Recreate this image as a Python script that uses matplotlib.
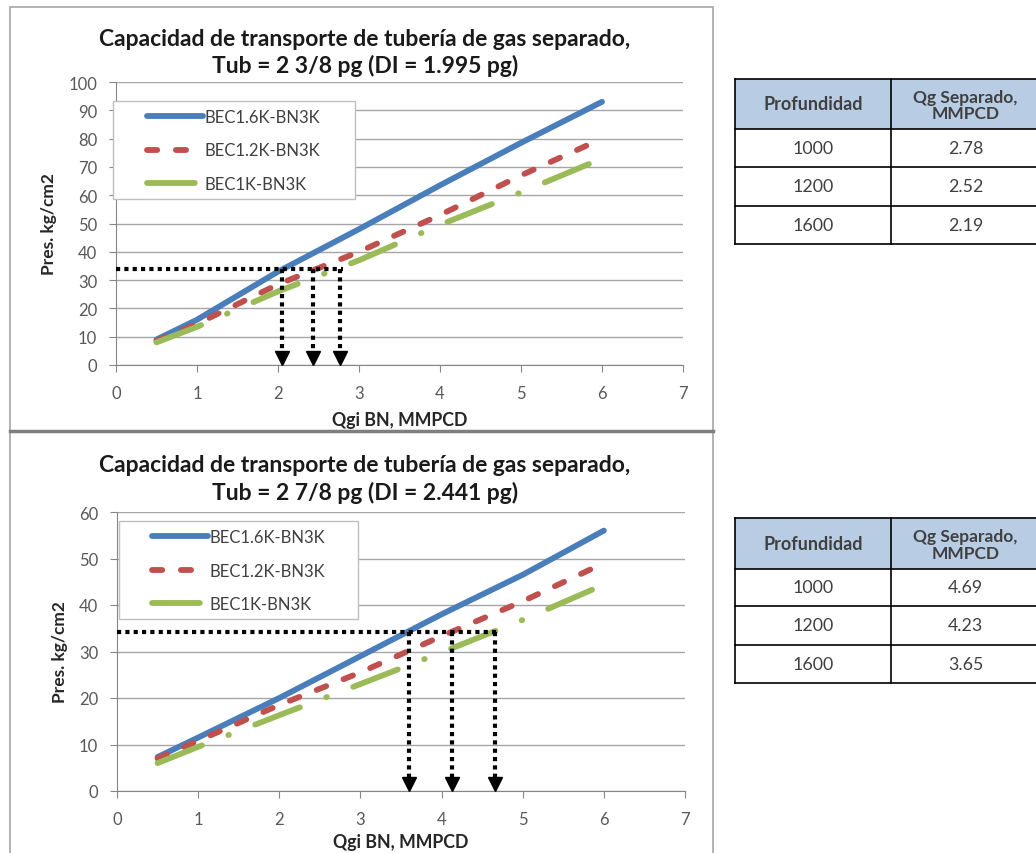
import matplotlib

matplotlib.use("Agg")

import matplotlib.pyplot as plt
from matplotlib.patches import Rectangle

plt.rcParams["font.family"] = ["Lato", "DejaVu Sans"]

# --- data ---
qgi = [0.5, 1, 2, 3, 4, 5, 6]
qgi_green_top = [0.5, 1, 2, 3, 4, 5, 5.92]
qgi_green_bot = [0.5, 1, 2, 3, 4, 5, 5.95]

top_bec16 = [9, 16, 33, 48, 63.5, 78.5, 93]
top_bec12 = [8.5, 14.5, 28.5, 40, 53, 67, 80]
top_bec10 = [8, 13.5, 26, 37, 49.5, 61, 72]

bot_bec16 = [7.3, 11.5, 20, 29, 38, 46.5, 56]
bot_bec12 = [7, 10.8, 18.5, 25.5, 33.3, 40.8, 49]
bot_bec10 = [6, 9.5, 16.3, 23, 29.8, 36.8, 44]

series_labels = ["BEC1.6K-BN3K", "BEC1.2K-BN3K", "BEC1K-BN3K"]

top_p_level = 34.0
top_arrows = [2.05, 2.43, 2.77]
bot_p_level = 34.3
bot_arrows = [3.6, 4.13, 4.66]

table_header = ["Profundidad", "Qg Separado,\nMMPCD"]
depths = ["1000", "1200", "1600"]
top_qg = ["2.78", "2.52", "2.19"]
bot_qg = ["4.69", "4.23", "3.65"]

top_title = ["Capacidad de transporte de tubería de gas separado,",
             "Tub = 2 3/8 pg (DI = 1.995 pg)"]
bot_title = ["Capacidad de transporte de tubería de gas separado,",
             "Tub = 2 7/8 pg (DI = 2.441 pg)"]

BLUE = "#4a7ebb"
RED = "#c0504d"
GREEN = "#9bbb59"
GRID = "#a6a6a6"
TXT = "#404040"

W, H = 1036, 854
fig = plt.figure(figsize=(W / 100, H / 100), dpi=100)


def fx(px):
    return px / W


def fy(py):
    return 1 - py / H


def draw_chart(ax, x16, y16, x12, y12, x10, y10, ymax, level, arrows, box, leg_anchor,
               xlabelpad=7):
    lw = 4.2
    ax.plot(x16, y16, color=BLUE, lw=lw, solid_capstyle="round", label=series_labels[0])
    ax.plot(x12, y12, color=RED, lw=lw, dashes=(1.75, 3.2), dash_capstyle="round",
            label=series_labels[1])
    ax.plot(x10, y10, color=GREEN, lw=lw, dashes=(8.2, 4.85, 0.1, 4.85),
            dash_capstyle="round", label=series_labels[2])

    # intersection guides
    ax.plot([0, max(arrows) + 0.03], [level, level], color="black", lw=3,
            dashes=(1, 1), zorder=5)
    for xa in arrows:
        ax.plot([xa, xa], [level, ymax * 0.025], color="black", lw=3, dashes=(1, 1), zorder=5)
        ax.plot([xa], [ymax * 0.025], marker="v", color="black", markersize=10, zorder=6)

    ax.set_xlim(0, 7)
    ax.set_ylim(0, ymax)
    ax.set_xticks(range(0, 8))
    ax.set_yticks(range(0, ymax + 1, 10))
    ax.grid(axis="y", color=GRID, lw=1)
    ax.set_axisbelow(True)
    for side in ["top", "right"]:
        ax.spines[side].set_visible(False)
    for side in ["left", "bottom"]:
        ax.spines[side].set_color("#868686")
    ax.tick_params(colors="#868686", labelcolor="#595959", labelsize=12, length=5)
    ax.tick_params(axis="x", pad=9.5)
    ax.tick_params(axis="y", pad=8.5)
    ax.set_xlabel("Qgi BN, MMPCD", fontsize=12.8, fontweight="bold", labelpad=xlabelpad,
                  color="#262626")
    ax.set_ylabel("Pres. kg/cm2", fontsize=12.5, fontweight="bold", labelpad=8,
                  color="#262626")

    # legend box drawn by hand, legend entries without frame
    x0, y0, x1, y1 = box
    ax.add_patch(Rectangle((x0, y0), x1 - x0, y1 - y0, transform=ax.transAxes,
                           facecolor="white", edgecolor="#bfbfbf", lw=1,
                           clip_on=False, zorder=6.5))
    leg = ax.legend(loc="upper left", bbox_to_anchor=leg_anchor, fontsize=12,
                    handlelength=3.35, handletextpad=0.1, labelspacing=1.05,
                    borderpad=0, frameon=False, borderaxespad=0)
    for t in leg.get_texts():
        t.set_color(TXT)
    leg.set_zorder(7)


def draw_table(left, col_div, right, row_edges, values):
    ax = fig.add_axes([0, 0, 1, 1])
    ax.set_xlim(0, W)
    ax.set_ylim(H, 0)
    ax.axis("off")
    ax.add_patch(Rectangle((left, row_edges[0]), right - left, row_edges[1] - row_edges[0],
                           facecolor="#b8cce4", edgecolor="none"))
    for y in row_edges:
        ax.plot([left, right], [y, y], color="black", lw=1.2)
    ax.plot([left, left], [row_edges[0], row_edges[-1]], color="black", lw=1.2)
    ax.plot([col_div, col_div], [row_edges[0], row_edges[-1]], color="black", lw=1.2)
    c1 = (left + col_div) / 2
    c2 = (col_div + right) / 2
    hy = (row_edges[0] + row_edges[1]) / 2
    ax.text(c1, hy, table_header[0], ha="center", va="center", fontsize=13,
            fontweight="bold", color=TXT)
    ax.text(c2, hy + 1, table_header[1], ha="center", va="center", fontsize=12.5,
            fontweight="bold", color=TXT, linespacing=1.05)
    for i in range(3):
        ry = (row_edges[i + 1] + row_edges[i + 2]) / 2
        ax.text(c1, ry, depths[i], ha="center", va="center", fontsize=12.8, color=TXT)
        ax.text(c2, ry, values[i], ha="center", va="center", fontsize=12.8, color=TXT)


# chart frames
frame_ax = fig.add_axes([0, 0, 1, 1])
frame_ax.set_xlim(0, W)
frame_ax.set_ylim(H, 0)
frame_ax.axis("off")
frame_ax.add_patch(Rectangle((10, 8), 703, 424, facecolor="none", edgecolor="#a6a6a6", lw=1.2))
frame_ax.add_patch(Rectangle((10, 432), 703, 430, facecolor="none", edgecolor="#a6a6a6", lw=1.2))
frame_ax.plot([10, 713], [432, 432], color="#7f7f7f", lw=2.5)

ax_top = fig.add_axes([fx(116), fy(366), fx(683) - fx(116), fy(83) - fy(366)])
draw_chart(ax_top, qgi, top_bec16, qgi, top_bec12, qgi_green_top, top_bec10, 100,
           top_p_level, top_arrows, (-0.005, 0.587, 0.4215, 0.933), (0.0547, 0.905))

ax_bot = fig.add_axes([fx(117), fy(792), fx(685) - fx(117), fy(513) - fy(792)])
draw_chart(ax_bot, qgi, bot_bec16, qgi, bot_bec12, qgi_green_bot, bot_bec10, 60,
           bot_p_level, bot_arrows, (0.0035, 0.6165, 0.4243, 0.9677), (0.0616, 0.939),
           xlabelpad=4.5)

for line, ypx in zip(top_title, [40, 66]):
    fig.text(fx(365), fy(ypx), line, ha="center", va="center", fontsize=16.5,
             fontweight="bold", color="#1a1a1a")
for line, ypx in zip(bot_title, [466, 493]):
    fig.text(fx(365), fy(ypx), line, ha="center", va="center", fontsize=16.5,
             fontweight="bold", color="#1a1a1a")

draw_table(735, 891, 1040, [80, 130, 168, 207, 245], top_qg)
draw_table(735, 891, 1040, [519, 570, 607, 646, 684], bot_qg)

fig.savefig("out.png", dpi=100)
